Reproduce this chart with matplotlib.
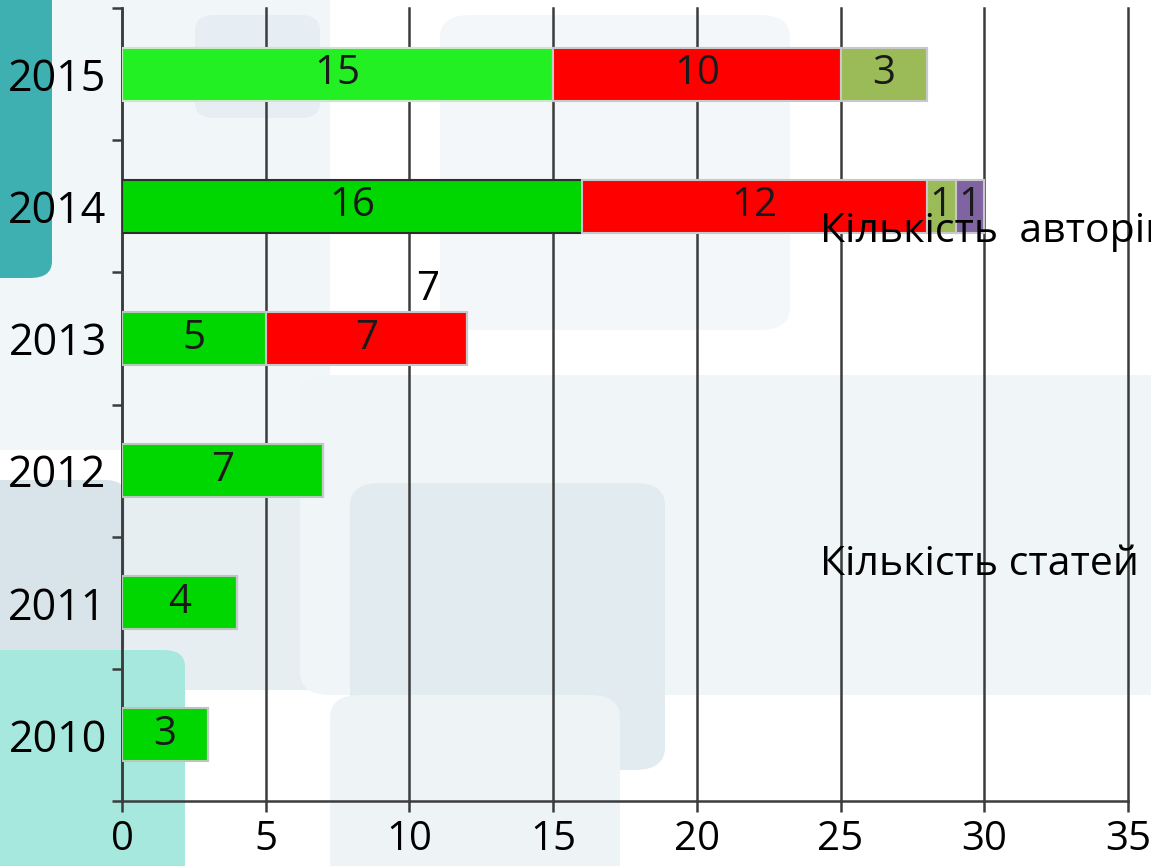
import numpy as np
import matplotlib.pyplot as plt
from matplotlib.patches import FancyBboxPatch

plt.rcParams['font.family'] = ['Open Sans', 'DejaVu Sans']

years = ['2010', '2011', '2012', '2013', '2014', '2015']
green_vals = [3, 4, 7, 5, 16, 15]
red_vals = [0, 0, 0, 7, 12, 10]
olive_vals = [0, 0, 0, 0, 1, 3]
purple_vals = [0, 0, 0, 0, 1, 0]
green_cols = ['#00d600', '#00d600', '#00d600', '#00d600', '#00d600', '#22f022']
green_edges = ['#b8c8b8', '#b8c8b8', '#b8c8b8', '#b8c8b8', '#2e2e2e', '#c8e8c8']

W, H = 1151, 866
fig = plt.figure(figsize=(W / 100, H / 100), dpi=100)
fig.patch.set_facecolor('white')

# decorative background boxes (pixel coords, origin top-left)
def bg_box(x0, y0, x1, y1, color, r=25):
    p = FancyBboxPatch((x0 / W, 1 - y1 / H), (x1 - x0) / W, (y1 - y0) / H,
                       boxstyle='round,pad=0,rounding_size=%f' % (r / W),
                       transform=fig.transFigure, facecolor=color,
                       edgecolor='none', zorder=-10)
    fig.patches.append(p)

bg_box(-30, -30, 330, 450, '#f1f6f9', 30)
bg_box(195, 15, 320, 118, '#e6eef3', 20)
bg_box(440, 15, 790, 330, '#f3f7f9', 30)
bg_box(-30, 480, 125, 660, '#d8e3ea', 20)
bg_box(125, 480, 345, 690, '#e6eef2', 20)
bg_box(300, 375, 1200, 695, '#f0f5f8', 30)
bg_box(350, 483, 665, 770, '#e2ebf0', 30)
bg_box(330, 695, 620, 900, '#eef3f6', 30)
bg_box(-30, -30, 52, 278, '#3fb0b2', 22)
bg_box(-30, 650, 185, 900, '#a6e8de', 22)

ax = fig.add_axes([122 / W, 1 - 801 / H, (1128 - 122) / W, (801 - 8) / H])
ax.patch.set_alpha(0)

y = np.arange(len(years))
h = 0.4
left = np.zeros(len(years))
segs = [
    (green_vals, green_cols, green_edges),
    (red_vals, ['#ff0000'] * 6, ['#c8c8c8'] * 6),
    (olive_vals, ['#9bbb59'] * 6, ['#c8c8c8'] * 6),
    (purple_vals, ['#8064a2'] * 6, ['#c8c8c8'] * 6),
]
for vals, cols, edges in segs:
    vals = np.array(vals, dtype=float)
    bars = ax.barh(y, vals, height=h, left=left, color=cols,
                   edgecolor=edges, linewidth=1.5, zorder=3)
    for b, v in zip(bars, vals):
        if v > 0:
            ax.text(b.get_x() + b.get_width() / 2, b.get_y() + b.get_height() / 2,
                    '%d' % v, ha='center', va='center', fontsize=29,
                    color='#1a1a1a', zorder=4)
    left += vals

# stray label above the 2013 bar
ax.text(10.65, 3.37, '7', ha='center', va='center', fontsize=29, color='black')

ax.set_xlim(0, 35)
ax.set_ylim(-0.5, 5.5)
ax.set_xticks(np.arange(0, 36, 5))
ax.set_yticks(y)
ax.set_yticklabels(years)
ax.set_yticks(np.arange(-0.5, 6, 1), minor=True)
ax.tick_params(axis='y', which='major', length=0, pad=11, labelsize=31)
ax.tick_params(axis='y', which='minor', length=7, width=1.8, color='#3c3c3c')
ax.tick_params(axis='x', length=8, width=1.8, color='#3c3c3c', pad=5, labelsize=29)

ax.grid(axis='x', color='#3c3c3c', linewidth=1.8)
for gl in ax.get_xgridlines():
    gl.set_clip_on(False)
ax.set_axisbelow(True)
for s in ['top', 'right']:
    ax.spines[s].set_visible(False)
for s in ['left', 'bottom']:
    ax.spines[s].set_color('#3c3c3c')
    ax.spines[s].set_linewidth(1.8)

fig.text(820 / W, 1 - 232 / H, 'Кількість  авторів', fontsize=29.5,
         ha='left', va='center', color='black')
fig.text(820 / W, 1 - 565 / H, 'Кількість статей', fontsize=29.5,
         ha='left', va='center', color='black')

fig.savefig('out.png', dpi=100)
